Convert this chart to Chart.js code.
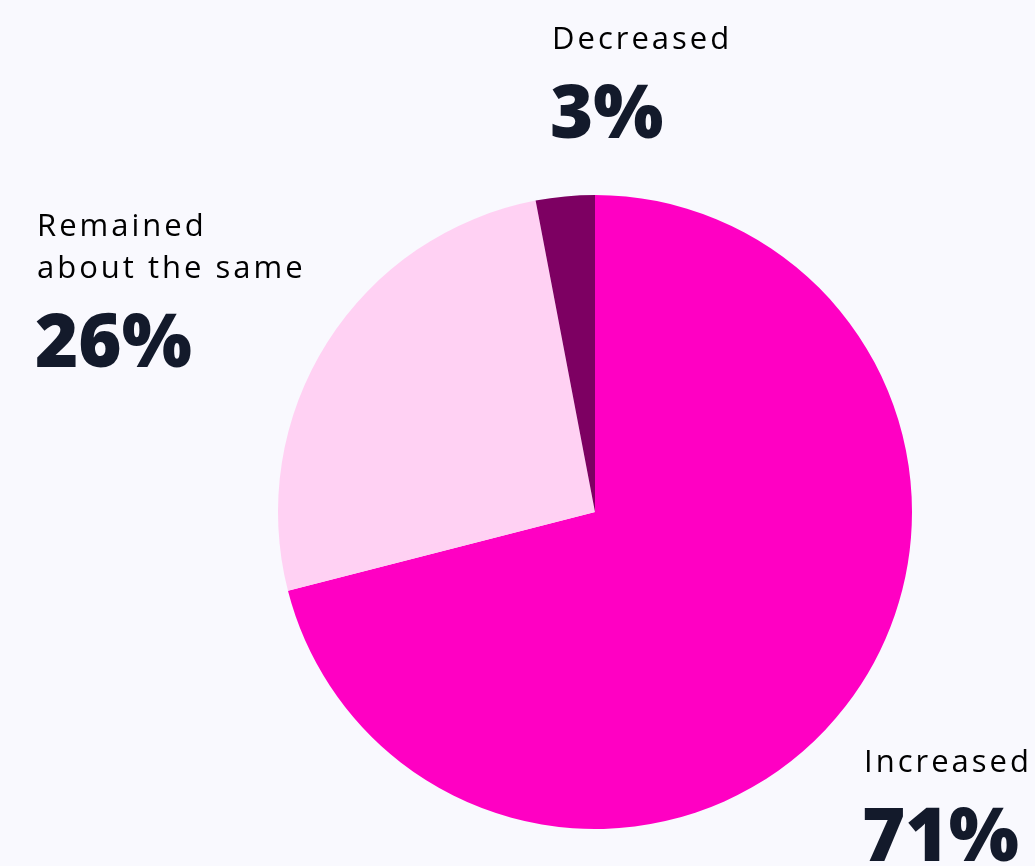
<!DOCTYPE html>
<html>
<head>
<meta charset="utf-8">
<script src="https://cdn.jsdelivr.net/npm/chart.js@4"></script>
<style>
  html, body { margin: 0; padding: 0; background: #f9f9fe; }
  canvas { display: block; }
</style>
</head>
<body>
<canvas id="myChart" width="1035" height="866"></canvas>
<script>
const categories = ['Increased', 'Remained about the same', 'Decreased'];
const shares = [71, 26, 3];
const labelLines = [['Increased'], ['Remained', 'about the same'], ['Decreased']];
const colors = ['#ff00c3', '#ffd1f3', '#7d0062'];

// where each label block sits (left x, baseline of first line)
const labelSpots = [[864, 772], [37, 236], [552, 49]];

const labelPlugin = {
  id: 'sliceLabels',
  afterDraw(chart) {
    const ctx = chart.ctx;
    ctx.save();
    ctx.textAlign = 'left';
    ctx.textBaseline = 'alphabetic';
    labelLines.forEach((lines, i) => {
      const [x, y] = labelSpots[i];
      ctx.fillStyle = '#000000';
      ctx.font = '400 31px "Open Sans"';
      ctx.letterSpacing = '3px';
      lines.forEach((t, j) => ctx.fillText(t, x, y + j * 42));
      ctx.letterSpacing = '0px';
      ctx.fillStyle = '#131a2b';
      ctx.font = '800 74px "Open Sans"';
      ctx.fillText(shares[i] + '%', x - 2, y + (lines.length - 1) * 42 + 89);
    });
    ctx.restore();
  }
};

function displayChart() {
  const ctx = document.getElementById('myChart');
  return new Chart(ctx, {
    type: 'pie',
    data: {
      labels: categories,
      datasets: [{
        data: shares,
        backgroundColor: colors,
        borderWidth: 0
      }]
    },
    options: {
      responsive: false,
      animation: false,
      layout: {
        padding: { top: 195, bottom: 37, left: 278, right: 123 }
      },
      plugins: {
        legend: { display: false },
        tooltip: { enabled: false }
      }
    },
    plugins: [labelPlugin]
  });
}

displayChart();
</script>
</body>
</html>
